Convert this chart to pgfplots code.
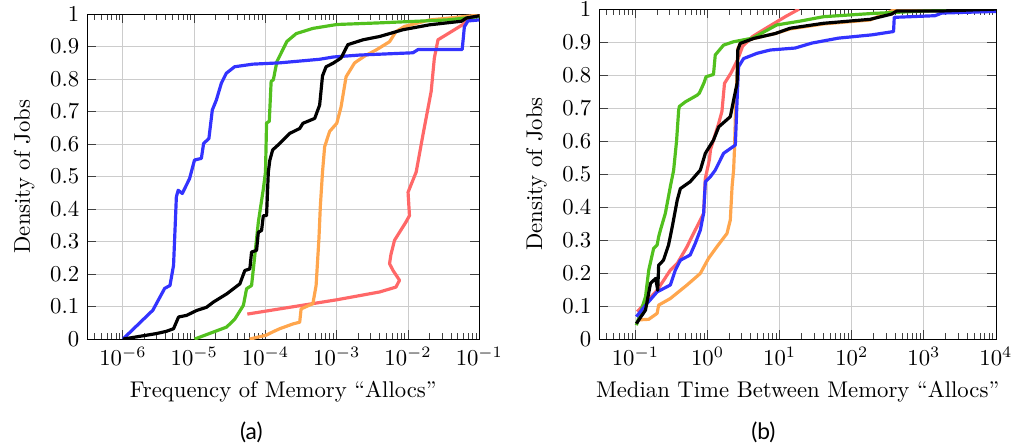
\documentclass[border=0pt]{standalone}
\usepackage{fontspec}
\newfontfamily\capfont{Lato}
\usepackage{pgfplots}
\pgfplotsset{compat=1.18}

\definecolor{cblue}{RGB}{51,51,255}
\definecolor{cgreen}{RGB}{82,192,30}
\definecolor{corange}{RGB}{255,166,77}
\definecolor{cred}{RGB}{255,104,104}

\begin{document}
\begin{tikzpicture}

% (a) frequency of allocs
\begin{axis}[
  scale only axis,
  at={(0pt,0pt)}, anchor=south west,
  width=172.5pt, height=143pt,
  xmode=log,
  xmin=3.16e-7, xmax=0.1,
  ymin=0, ymax=1,
  xtick={1e-6,1e-5,1e-4,1e-3,1e-2,1e-1},
  minor xtick={4e-7,5e-7,6e-7,7e-7,8e-7,9e-7,
    2e-6,3e-6,4e-6,5e-6,6e-6,7e-6,8e-6,9e-6,
    2e-5,3e-5,4e-5,5e-5,6e-5,7e-5,8e-5,9e-5,
    2e-4,3e-4,4e-4,5e-4,6e-4,7e-4,8e-4,9e-4,
    2e-3,3e-3,4e-3,5e-3,6e-3,7e-3,8e-3,9e-3,
    2e-2,3e-2,4e-2,5e-2,6e-2,7e-2,8e-2,9e-2},
  ytick={0,0.1,0.2,0.3,0.4,0.5,0.6,0.7,0.8,0.9,1},
  grid=major,
  major grid style={black!20},
  tick style={black!75, thin},
  major tick length=4pt,
  minor tick length=2.6pt,
  xlabel={Frequency of Memory “Allocs”},
  ylabel={Density of Jobs},
  every axis plot/.append style={line width=1.4pt, line join=round},
]
\addplot[cred] coordinates {
(5.56e-5,0.077) (1.585e-4,0.093) (1e-3,0.121) (3.98e-3,0.145) (6.76e-3,0.16)
(7.59e-3,0.181) (6.17e-3,0.211) (5.50e-3,0.232) (5.75e-3,0.26) (6.46e-3,0.304)
(9.33e-3,0.36) (1.047e-2,0.38) (1.0e-2,0.452) (1.30e-2,0.514) (1.62e-2,0.629)
(2.11e-2,0.762) (2.34e-2,0.865) (2.63e-2,0.921) (3.47e-2,0.937) (5.89e-2,0.968)
(7.76e-2,0.993) (0.1,1.0)
};
\addplot[corange] coordinates {
(5.98e-5,0.0) (1.02e-4,0.012) (1.26e-4,0.022) (1.585e-4,0.032) (2.45e-4,0.047)
(3.02e-4,0.052) (3.16e-4,0.093) (4.62e-4,0.109) (5.13e-4,0.165) (5.62e-4,0.309)
(5.89e-4,0.411) (6.31e-4,0.514) (6.76e-4,0.592) (7.94e-4,0.639) (1.0e-3,0.664)
(1.15e-3,0.715) (1.35e-3,0.807) (1.78e-3,0.85) (2.51e-3,0.872) (3.59e-3,0.89)
(5.50e-3,0.915) (6.76e-3,0.946) (8.91e-3,0.962) (2.0e-2,0.982) (5.89e-2,0.992)
(0.1,0.997)
};
\addplot[cgreen] coordinates {
(1.01e-5,0.0) (2.85e-5,0.037) (3.72e-5,0.062) (4.90e-5,0.104) (5.43e-5,0.155)
(6.38e-5,0.165) (6.76e-5,0.216) (7.94e-5,0.36) (9.33e-5,0.462) (1.0e-4,0.514)
(1.02e-4,0.60) (1.035e-4,0.665) (1.13e-4,0.67) (1.20e-4,0.793) (1.29e-4,0.798)
(1.445e-4,0.854) (2.0e-4,0.916) (2.70e-4,0.94) (4.62e-4,0.956) (1e-3,0.968)
(3.98e-3,0.973) (3.47e-2,0.982) (0.1,0.992)
};
\addplot[cblue] coordinates {
(1.0e-6,0.0) (2.63e-6,0.089) (3.85e-6,0.156) (4.57e-6,0.165) (5.13e-6,0.227)
(5.62e-6,0.438) (5.96e-6,0.458) (6.81e-6,0.448) (8.61e-6,0.494) (1.01e-5,0.551)
(1.26e-5,0.556) (1.355e-5,0.602) (1.607e-5,0.617) (1.795e-5,0.705) (2.04e-5,0.735)
(2.40e-5,0.787) (2.82e-5,0.818) (3.69e-5,0.838) (6.65e-5,0.846) (1.585e-4,0.850)
(5.75e-4,0.861) (8.91e-4,0.868) (2.09e-3,0.874) (1.175e-2,0.881) (1.38e-2,0.891)
(5.75e-2,0.891) (6.17e-2,0.961) (6.92e-2,0.979) (0.1,0.982)
};
\addplot[black] coordinates {
(1e-6,0.0) (2.95e-6,0.017) (4.07e-6,0.024) (5.13e-6,0.032) (6.03e-6,0.068)
(7.82e-6,0.073) (1.08e-5,0.088) (1.49e-5,0.098) (1.86e-5,0.114) (2.85e-5,0.139)
(4.37e-5,0.170) (5.13e-5,0.211) (6.03e-5,0.216) (6.38e-5,0.268) (7.50e-5,0.273)
(7.94e-5,0.329) (8.81e-5,0.334) (9.33e-5,0.38) (1.035e-4,0.38) (1.096e-4,0.514)
(1.15e-4,0.55) (1.26e-4,0.582) (1.585e-4,0.602) (2.19e-4,0.633) (3.02e-4,0.648)
(3.35e-4,0.664) (4.90e-4,0.679) (5.75e-4,0.72) (6.31e-4,0.81) (7.08e-4,0.838)
(8.91e-4,0.849) (1.15e-3,0.865) (1.43e-3,0.906) (2.34e-3,0.921) (3.98e-3,0.931)
(8.51e-3,0.952) (2.0e-2,0.967) (5.62e-2,0.978) (6.61e-2,0.988) (0.1,0.995)
};
\end{axis}

% (b) median time between allocs
\begin{axis}[
  scale only axis,
  at={(225.3pt,0pt)}, anchor=south west,
  width=174.5pt, height=145.2pt,
  xmode=log,
  xmin=3.16e-2, xmax=1e4,
  ymin=0, ymax=1,
  xtick={1e-1,1,1e1,1e2,1e3,1e4},
  minor xtick={4e-2,5e-2,6e-2,7e-2,8e-2,9e-2,
    0.2,0.3,0.4,0.5,0.6,0.7,0.8,0.9,
    2,3,4,5,6,7,8,9,
    20,30,40,50,60,70,80,90,
    200,300,400,500,600,700,800,900,
    2000,3000,4000,5000,6000,7000,8000,9000},
  ytick={0,0.1,0.2,0.3,0.4,0.5,0.6,0.7,0.8,0.9,1},
  grid=major,
  major grid style={black!20},
  tick style={black!75, thin},
  major tick length=4pt,
  minor tick length=2.6pt,
  xlabel={Median Time Between Memory “Allocs”},
  ylabel={Density of Jobs},
  every axis plot/.append style={line width=1.4pt, line join=round},
]
\addplot[cred] coordinates {
(0.106,0.083) (0.2,0.148) (0.305,0.209) (0.38,0.229) (0.52,0.28) (0.575,0.30)
(0.883,0.381) (0.933,0.487) (1.06,0.543) (1.10,0.574) (1.43,0.654) (1.585,0.69)
(1.72,0.775) (2.11,0.806) (2.61,0.846) (3.06,0.887) (4.22,0.917) (6.46,0.942)
(12.2,0.978) (18.6,1.0)
};
\addplot[corange] coordinates {
(0.106,0.058) (0.153,0.06) (0.2,0.078) (0.21,0.103) (0.305,0.123) (0.52,0.164)
(0.794,0.199) (1.035,0.245) (1.35,0.28) (1.86,0.32) (2.07,0.361) (2.19,0.462)
(2.30,0.512) (2.37,0.58) (2.45,0.70) (2.57,0.80) (2.63,0.88) (2.84,0.896)
(4.37,0.911) (8.71,0.926) (14.0,0.94) (40.7,0.955) (180,0.967) (380,0.997)
(10000,1.0)
};
\addplot[cgreen] coordinates {
(0.103,0.042) (0.138,0.128) (0.153,0.209) (0.179,0.275) (0.2,0.285) (0.21,0.31)
(0.222,0.33) (0.26,0.381) (0.305,0.462) (0.339,0.512) (0.372,0.60) (0.398,0.694)
(0.407,0.705) (0.493,0.719) (0.716,0.739) (0.769,0.745) (0.891,0.776) (0.955,0.795)
(1.21,0.802) (1.28,0.861) (1.67,0.891) (2.29,0.901) (4.22,0.912) (9.12,0.952)
(18.6,0.963) (40.7,0.977) (200,0.987) (977,0.994) (10000,1.0)
};
\addplot[cblue] coordinates {
(0.103,0.068) (0.145,0.108) (0.2,0.143) (0.305,0.164) (0.358,0.209) (0.42,0.239)
(0.575,0.255) (0.676,0.29) (0.794,0.33) (0.883,0.381) (0.933,0.477) (1.094,0.492)
(1.28,0.512) (1.67,0.563) (2.43,0.588) (2.57,0.724) (2.69,0.825) (3.16,0.85)
(4.85,0.866) (7.41,0.876) (16.4,0.882) (28.0,0.897) (65.5,0.912) (191,0.922)
(380,0.932) (389,0.975) (1429,0.98) (1778,0.988) (10000,0.993)
};
\addplot[black] coordinates {
(0.103,0.047) (0.138,0.088) (0.162,0.169) (0.191,0.184) (0.204,0.148) (0.21,0.224)
(0.245,0.239) (0.288,0.285) (0.324,0.34) (0.38,0.421) (0.42,0.456) (0.575,0.477)
(0.794,0.512) (0.933,0.563) (1.21,0.603) (1.43,0.643) (2.07,0.674) (2.30,0.724)
(2.57,0.775) (2.63,0.876) (2.84,0.896) (4.37,0.911) (8.71,0.926) (14.0,0.942)
(40.7,0.957) (180,0.969) (359,0.985) (417,0.994) (1660,0.994) (10000,1.0)
};
\end{axis}

\node[font=\capfont] at (72.2pt,-40.9pt) {(a)};
\node[font=\capfont] at (297.5pt,-40.9pt) {(b)};

\pgfresetboundingbox
\path (-38.4pt,-47.1pt) rectangle (409.5pt,149.2pt);
\end{tikzpicture}
\end{document}
